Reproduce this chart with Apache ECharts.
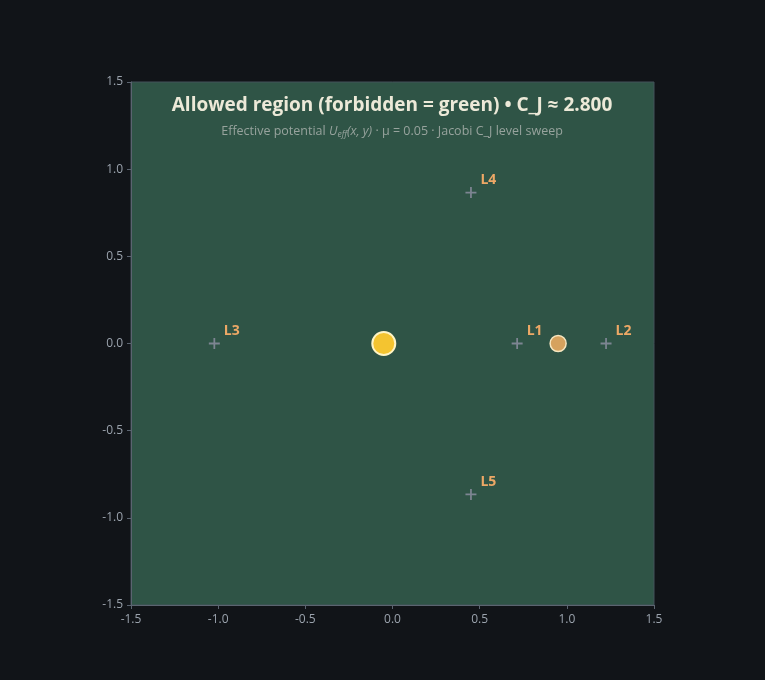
<!DOCTYPE html>
<html><head><meta charset="utf-8">
<script src="https://cdn.jsdelivr.net/npm/echarts@6/dist/echarts.min.js"></script>
<style>html,body{margin:0;padding:0;background:#111418;}#c{width:765px;height:680px;}</style>
</head><body><div id="c"></div>
<script>
const mu = 0.05;
const axisTicks = [-1.5, -1.0, -0.5, 0.0, 0.5, 1.0, 1.5];
const lagrangeNames = ['L1', 'L2', 'L3', 'L4', 'L5'];
const lagrangeX = [0.715, 1.225, -1.022, 0.45, 0.45];
const lagrangeY = [0, 0, 0, 0.866, -0.866];
const primaryPos = [-0.05, 0];
const secondaryPos = [0.95, 0];
const titleText = 'Allowed region (forbidden = green) • C_J ≈ 2.800';

const chart = echarts.init(document.getElementById('c'), null, {renderer: 'canvas'});
const font = '"Open Sans", "Noto Sans", sans-serif';
const axisCommon = {
  type: 'value', min: -1.5, max: 1.5, interval: 0.5,
  axisLine: {show: true, onZero: false, lineStyle: {color: '#5b6470', width: 1}},
  axisTick: {show: true, length: 4, lineStyle: {color: '#5b6470'}},
  splitLine: {show: false},
  axisLabel: {color: '#9ba3ad', fontSize: 12, fontFamily: font, formatter: v => v.toFixed(1)}
};
chart.setOption({
  backgroundColor: '#111418',
  title: {
    text: titleText,
    subtext: '{n|Effective potential }{i|U}{s|eff}{i|(x, y)}{n| · μ = 0.05 · Jacobi C_J level sweep}',
    left: 387, top: 91, textAlign: 'center', itemGap: 9,
    textStyle: {color: '#ece9d8', fontSize: 19, fontWeight: 'bold', fontFamily: font},
    subtextStyle: {
      color: '#97a39d', fontSize: 12.5, fontFamily: font,
      rich: {
        n: {color: '#97a39d', fontSize: 12.5, fontFamily: font},
        i: {color: '#97a39d', fontSize: 12.5, fontStyle: 'italic', fontFamily: font},
        s: {color: '#97a39d', fontSize: 8.5, fontStyle: 'italic', fontFamily: font, verticalAlign: 'bottom', padding: [6, 0, 0, 0]}
      }
    }
  },
  grid: {left: 131, top: 82, width: 523, height: 523, show: true, backgroundColor: '#2f5446', borderColor: '#44525a', borderWidth: 1},
  xAxis: Object.assign({}, axisCommon, {axisLabel: Object.assign({}, axisCommon.axisLabel, {margin: 9})}),
  yAxis: Object.assign({}, axisCommon, {axisLabel: Object.assign({}, axisCommon.axisLabel, {margin: 8})}),
  series: [
    {
      type: 'scatter', z: 3,
      data: lagrangeNames.map((n, i) => ({name: n, value: [lagrangeX[i], lagrangeY[i]]})),
      symbol: 'path://M4.2,0H5.8V4.2H10V5.8H5.8V10H4.2V5.8H0V4.2H4.2Z',
      symbolSize: 11,
      itemStyle: {color: '#7d8592', opacity: 1},
      label: {
        show: true, formatter: p => p.name, position: [15, -7], align: 'left', verticalAlign: 'middle',
        color: '#eda866', fontSize: 14, fontWeight: 'bold', fontFamily: font
      },
      emphasis: {disabled: true}
    },
    {
      type: 'scatter', z: 4,
      data: [primaryPos],
      symbol: 'circle', symbolSize: 23,
      itemStyle: {color: '#f4c430', borderColor: '#fff4c4', borderWidth: 2, opacity: 1},
      emphasis: {disabled: true}
    },
    {
      type: 'scatter', z: 4,
      data: [secondaryPos],
      symbol: 'circle', symbolSize: 16,
      itemStyle: {color: '#d6a25e', borderColor: '#f6e6c0', borderWidth: 1.5, opacity: 1},
      emphasis: {disabled: true}
    }
  ]
});
</script></body></html>
